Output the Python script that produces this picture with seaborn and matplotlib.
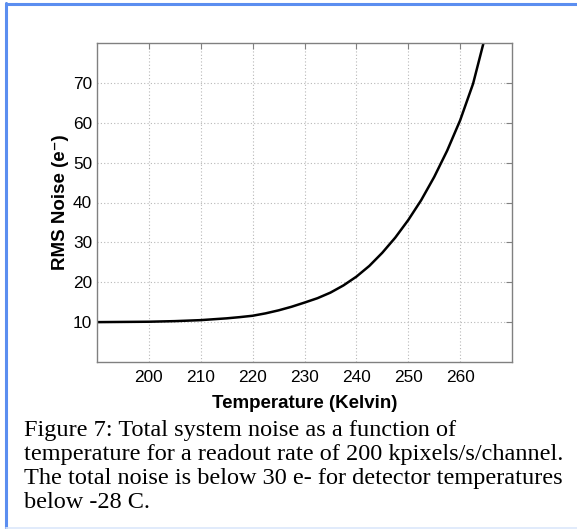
import matplotlib
matplotlib.use('Agg')
import matplotlib.pyplot as plt
from matplotlib.lines import Line2D
import seaborn as sns
import pandas as pd

# Values
temperature = [190, 195, 200, 205, 210, 215, 217.5, 220, 222.5, 225, 227.5, 230, 232.5,
               235, 237.5, 240, 242.5, 245, 247.5, 250, 252.5, 255, 257.5, 260, 262.5, 265]
rms_noise = [10.0, 10.05, 10.1, 10.25, 10.5, 10.95, 11.25, 11.6, 12.2, 12.95, 13.85, 14.9, 16.0,
             17.4, 19.2, 21.4, 24.1, 27.4, 31.2, 35.6, 40.6, 46.4, 53.0, 60.6, 69.8, 82.5]
x_ticks = [200, 210, 220, 230, 240, 250, 260]
y_ticks = [10, 20, 30, 40, 50, 60, 70]

caption_lines = [
    "Figure 7: Total system noise as a function of",
    "temperature for a readout rate of 200 kpixels/s/channel.",
    "The total noise is below 30 e- for detector temperatures",
    "below -28 C.",
]

df = pd.DataFrame({'Temperature': temperature, 'Noise': rms_noise})

sns.set_style("white")
plt.rcParams['font.family'] = ['Liberation Sans', 'DejaVu Sans']

fig = plt.figure(figsize=(5.77, 5.29), dpi=100)
ax = fig.add_axes([97 / 577, 167 / 529, 415 / 577, 319 / 529])

sns.lineplot(data=df, x='Temperature', y='Noise', color='black', linewidth=1.8, ax=ax)

ax.set_xlim(190, 270)
ax.set_ylim(0, 80)
ax.set_xticks(x_ticks)
ax.set_yticks(y_ticks)
ax.grid(True, linestyle=(0, (1, 2)), color='#b8b8b8', linewidth=0.8)

for s in ax.spines.values():
    s.set_color('#808080')
    s.set_linewidth(1.0)

ax.tick_params(axis='both', direction='in', length=4, width=0.8, color='#808080',
               labelsize=12.4, top=True, right=True, labelcolor='black')
ax.tick_params(axis='x', pad=6)
ax.tick_params(axis='y', pad=3.5)

ax.set_xlabel('Temperature (Kelvin)', fontsize=13.5, fontweight='bold', labelpad=7, color='black')
ax.set_ylabel('RMS Noise (e\u207b)', fontsize=13.5, fontweight='bold', labelpad=2.5, color='black')

# caption below the chart
baselines = [436, 460.3, 484.3, 507.7]
for line, yb in zip(caption_lines, baselines):
    fig.text(24 / 577, 1 - yb / 529, line, family=['Liberation Serif', 'DejaVu Serif'],
             fontsize=17.5, va='baseline', ha='left', color='black')

# blue frame around the figure
fig.add_artist(Line2D([5.5 / 577, 5.5 / 577], [0, 1 - 3 / 529], transform=fig.transFigure,
                      color='#5b8ef0', linewidth=2.2))
fig.add_artist(Line2D([5.5 / 577, 1], [1 - 3.5 / 529, 1 - 3.5 / 529], transform=fig.transFigure,
                      color='#5b8ef0', linewidth=2.2))
fig.add_artist(Line2D([6 / 577, 1], [1 - 527.5 / 529, 1 - 527.5 / 529], transform=fig.transFigure,
                      color='#dce7fb', linewidth=1.2))

fig.savefig('out.png', dpi=100)
